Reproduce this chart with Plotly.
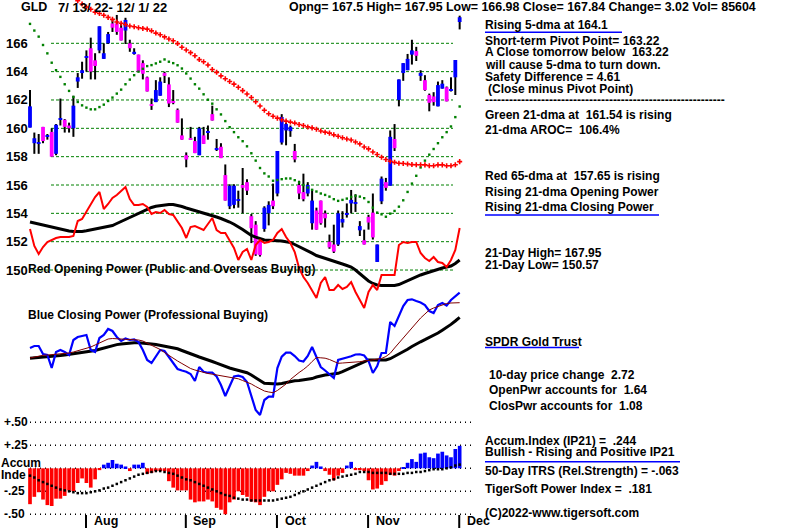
import plotly.graph_objects as go
import pandas as pd

# ---------------- data ----------------
holidays = ["2022-09-05", "2022-11-24"]
dates = [d for d in pd.bdate_range("2022-07-13", "2022-12-01")
         if d.strftime("%Y-%m-%d") not in holidays]

opens = [160.05,158.95,158.95,160.1,159.4,159.75,158.2,160.6,160.6,160.2,
         160.0,163.3,163.9,165.0,165.65,164.8,165.5,164.9,166.0,167.4,
         167.4,167.1,166.9,166.0,165.3,165.2,164.6,163.6,161.65,161.85,
         162.3,163.9,163.1,161.9,161.3,159.5,158.1,159.3,159.1,158.1,
         159.5,159.7,161.0,158.5,158.7,156.7,154.5,154.6,154.9,156.0,
         156.2,153.8,153.2,152.05,152.9,154.0,154.9,155.4,159.0,159.85,
         159.8,158.4,156.0,155.5,155.4,153.3,154.2,154.9,154.0,152.0,
         151.8,151.8,153.35,153.9,154.7,154.7,152.8,152.1,153.75,154.05,
         150.57,154.85,156.2,155.95,159.25,162.0,163.9,164.1,165.2,165.45,
         163.7,163.4,162.35,162.25,161.55,162.8,162.9,162.65,163.6,167.5]
highs = [162.7,159.7,159.6,160.1,159.6,160.0,160.3,162.1,160.65,160.4,
         162.3,163.9,164.7,165.5,166.4,165.3,167.2,166.0,166.8,167.65,
         168.0,167.4,167.8,166.25,165.65,165.2,164.8,163.65,162.1,163.4,
         163.6,164.0,163.6,162.7,161.4,160.7,158.3,160.1,159.4,160.1,
         160.1,160.2,161.6,159.25,158.95,157.45,156.05,156.05,155.6,157.2,
         156.4,153.95,153.45,152.2,154.5,154.85,156.1,158.4,161.0,160.4,
         160.2,158.9,156.3,156.8,156.2,155.7,154.4,154.9,154.2,152.5,
         153.2,154.2,154.15,154.7,155.65,155.35,153.45,152.85,153.9,155.4,
         151.8,156.6,156.5,159.85,160.3,163.45,164.6,165.25,166.25,165.75,
         164.1,163.75,162.45,162.55,163.3,163.4,162.95,163.6,164.8,167.95]
lows = [160.05,158.2,158.2,158.95,159.2,158.0,158.1,160.2,159.7,159.7,
        159.4,162.85,163.5,164.0,163.45,163.45,165.3,164.9,165.95,166.8,
        166.6,166.2,165.95,165.4,165.2,164.0,163.45,162.6,161.3,161.85,
        162.3,163.2,161.5,161.7,160.4,159.2,157.25,159.2,158.25,158.1,
        158.9,159.2,160.55,158.4,157.9,154.9,154.3,154.35,154.4,154.0,
        155.3,151.9,151.0,150.95,152.7,153.15,154.3,155.2,158.85,158.8,
        159.4,157.6,155.0,154.85,155.2,152.85,152.85,153.2,153.0,151.5,
        151.2,151.7,153.0,153.7,154.0,154.1,152.4,151.8,152.85,152.15,
        150.57,154.65,155.6,155.95,158.4,161.55,163.35,164.1,164.5,164.75,
        163.35,162.65,161.2,161.6,161.55,162.8,161.9,162.6,162.35,166.98]
closes = [161.55,159.3,158.95,159.1,159.5,158.0,160.25,160.7,160.1,160.0,
          161.6,163.6,164.1,165.1,164.0,164.4,167.2,165.3,166.65,167.1,
          166.8,166.2,167.65,165.65,165.4,164.0,163.85,162.6,161.6,162.7,
          163.3,163.7,161.75,161.8,160.4,159.2,157.8,159.2,158.25,160.0,
          158.9,159.8,160.55,158.55,157.9,154.9,155.95,155.95,155.0,155.8,
          155.6,152.95,151.1,151.05,154.4,154.6,154.5,158.4,160.8,160.3,
          160.1,157.8,155.4,155.0,156.0,154.9,152.85,153.3,153.65,151.6,
          151.3,154.0,153.6,154.0,154.95,154.7,153.1,151.8,153.35,152.3,
          151.8,156.45,155.8,159.4,158.6,163.45,164.6,164.9,165.5,165.12,
          163.9,162.7,161.8,161.85,163.05,163.15,161.9,162.7,164.82,167.84]

ma21 = [167.37,166.9,166.47,165.88,165.29,164.63,164.1,163.63,163.11,162.64,
        162.21,161.86,161.62,161.46,161.34,161.34,161.5,161.67,161.93,162.17,
        162.45,162.73,163.11,163.44,163.75,164.0,164.2,164.39,164.46,164.58,
        164.7,164.86,164.7,164.6,164.45,164.22,163.87,163.51,163.11,162.8,
        162.4,162.02,161.74,161.34,160.98,160.51,160.08,159.73,159.37,159.09,
        158.73,158.24,157.72,157.2,156.82,156.6,156.3,156.35,156.41,156.46,
        156.46,156.34,156.18,156.0,155.82,155.66,155.54,155.4,155.3,155.18,
        155.0,154.88,154.95,155.04,155.16,155.23,155.18,155.07,154.8,154.4,
        154.05,153.93,153.76,153.98,154.17,154.47,154.92,155.51,156.1,156.65,
        157.24,157.72,158.14,158.54,158.95,159.37,159.73,160.13,160.79,161.54]
ma65 = [None]*11 + [
        169.0,168.77,168.56,168.4,168.2,168.1,167.98,167.83,167.69,
        167.5,167.42,167.33,167.22,167.17,167.1,167.05,167.0,166.88,166.72,
        166.6,166.45,166.3,166.18,165.98,165.72,165.53,165.34,165.12,164.85,
        164.7,164.47,164.15,163.95,163.7,163.5,163.3,163.12,162.9,162.66,
        162.42,162.17,161.88,161.58,161.28,161.03,160.85,160.72,160.6,160.51,
        160.44,160.37,160.27,160.2,160.1,160.03,159.93,159.81,159.73,159.66,
        159.54,159.44,159.33,159.25,159.18,159.03,158.9,158.68,158.55,158.33,
        158.15,157.96,157.8,157.68,157.6,157.53,157.52,157.48,157.44,157.43,
        157.43,157.42,157.36,157.36,157.42,157.42,157.36,157.36,157.43,157.65]

open_power = [7.1,5.4,4.6,5.3,5.8,6.0,6.2,6.3,6.3,6.3,
              6.4,7.9,8.1,8.8,9.5,10.3,10.8,9.1,9.6,10.2,
              10.5,10.9,11.3,10.1,9.5,9.5,9.6,9.3,8.6,8.8,
              8.7,9.0,8.6,8.5,7.9,7.2,6.2,7.3,7.4,7.2,
              7.0,7.6,8.2,7.0,6.7,6.7,6.0,5.2,4.0,4.8,
              5.1,4.0,5.5,6.0,5.7,5.8,6.0,6.7,7.1,6.3,
              5.7,4.8,3.2,2.3,1.7,1.0,0.2,1.7,2.3,1.0,
              1.0,1.5,1.1,1.3,1.8,0.8,0.0,-0.8,0.8,1.5,
              1.0,2.5,2.5,2.5,2.5,5.5,5.8,5.7,5.8,5.8,
              4.7,4.2,3.9,4.3,3.8,3.7,3.3,4.0,5.0,7.2]
open_power_ma = [7.8,7.7,7.55,7.45,7.35,7.25,7.15,7.05,6.97,6.9,
                 6.85,6.83,6.85,6.92,7.0,7.1,7.17,7.23,7.3,7.45,
                 7.65,7.85,8.05,8.28,8.5,8.7,8.9,9.1,9.25,9.37,
                 9.45,9.5,9.54,9.55,9.47,9.35,9.2,9.08,8.97,8.85,
                 8.72,8.58,8.45,8.3,8.15,8.0,7.8,7.58,7.35,7.05,
                 6.75,6.45,6.28,6.13,6.0,5.97,5.96,5.95,5.9,5.82,
                 5.75,5.55,5.35,5.15,4.92,4.68,4.45,4.32,4.18,4.05,
                 3.9,3.75,3.6,3.45,3.3,3.0,2.6,2.2,1.9,1.65,
                 1.5,1.45,1.45,1.45,1.45,1.55,1.75,1.95,2.15,2.35,
                 2.5,2.65,2.8,2.95,3.1,3.2,3.3,3.4,3.65,4.0]

close_power = [7.2,7.4,7.4,6.6,6.5,5.2,6.8,7.0,6.8,6.5,
               8.0,8.3,8.4,8.5,7.0,6.8,8.2,8.5,9.1,8.9,
               8.3,7.9,8.15,8.0,8.05,7.8,7.0,6.0,5.7,6.4,
               7.0,6.9,6.3,5.6,5.1,4.95,4.83,4.6,3.9,5.3,
               4.83,4.73,4.73,4.35,3.5,2.4,3.4,4.35,4.43,4.3,
               3.8,2.3,1.0,0.5,2.0,2.33,2.33,5.2,6.33,6.73,
               6.73,6.4,5.95,5.85,6.4,7.3,6.2,5.3,4.95,4.6,
               4.2,6.0,6.15,6.25,6.37,6.55,6.57,6.45,5.9,4.7,
               5.4,6.7,6.7,9.8,9.4,10.4,11.4,12.0,12.07,11.9,
               11.75,11.5,10.9,10.7,11.5,11.7,11.45,12.0,12.4,12.73]
close_power_ma21 = [6.2,6.3,6.35,6.47,6.5,6.53,6.58,6.62,6.65,6.7,
                    6.8,6.92,7.05,7.18,7.3,7.5,7.7,7.9,8.1,8.15,
                    8.1,8.08,8.07,8.05,8.03,8.0,7.9,7.7,7.5,7.3,
                    7.05,6.75,6.45,6.17,5.9,5.65,5.4,5.15,5.0,4.87,
                    4.75,4.65,4.58,4.5,4.43,4.37,4.3,4.2,4.12,3.95,
                    3.78,3.6,3.35,3.1,2.9,2.8,2.73,2.95,3.25,3.6,
                    4.05,4.45,4.75,5.05,5.4,5.85,6.25,6.22,6.18,6.05,
                    5.85,5.67,5.7,5.72,5.74,5.78,5.83,5.9,5.97,6.02,
                    6.08,6.15,6.35,6.67,7.2,7.7,8.2,8.7,9.2,9.75,
                    10.2,10.6,11.0,11.2,11.35,11.5,11.65,11.7,11.72,11.73]
close_power_ma65 = [6.17,6.2,6.23,6.26,6.29,6.33,6.38,6.44,6.5,6.56,
                    6.6,6.67,6.74,6.81,6.88,6.95,7.07,7.2,7.34,7.48,
                    7.54,7.6,7.65,7.7,7.73,7.72,7.7,7.65,7.61,7.55,
                    7.47,7.4,7.33,7.27,7.12,6.95,6.77,6.6,6.45,6.3,
                    6.15,6.02,5.85,5.68,5.5,5.32,5.2,5.08,4.97,4.85,
                    4.73,4.5,4.22,3.95,3.68,3.66,3.63,3.6,3.65,3.75,
                    3.87,3.92,3.96,4.0,4.05,4.14,4.3,4.42,4.5,4.55,
                    4.61,4.67,4.84,5.04,5.24,5.45,5.65,5.86,6.0,6.0,
                    6.0,6.0,6.0,6.13,6.35,6.57,6.8,7.08,7.35,7.62,
                    7.82,8.03,8.24,8.45,8.7,8.98,9.25,9.56,9.9,10.27]

accum = [-0.39,-0.31,-0.26,-0.34,-0.40,-0.41,-0.33,-0.33,-0.30,-0.24,
         -0.25,-0.16,-0.11,-0.16,-0.21,-0.12,-0.02,0.04,0.06,0.09,
         0.05,0.04,0.02,-0.03,0.04,0.04,0.06,-0.06,-0.05,-0.03,
         -0.03,-0.03,-0.14,-0.21,-0.24,-0.24,-0.24,-0.34,-0.37,-0.36,
         -0.36,-0.34,-0.36,-0.43,-0.45,-0.50,-0.37,-0.34,-0.25,-0.29,
         -0.31,-0.36,-0.37,-0.40,-0.31,-0.25,-0.25,-0.18,-0.12,-0.05,
         -0.06,-0.08,-0.08,-0.08,-0.03,0.03,0.07,0.02,-0.03,-0.07,
         -0.13,-0.08,-0.05,0.03,0.07,-0.02,-0.02,-0.03,-0.13,-0.23,
         -0.22,-0.18,-0.14,-0.07,-0.08,-0.03,0.01,0.06,0.10,0.07,
         0.16,0.17,0.12,0.11,0.16,0.18,0.14,0.12,0.21,0.244]
accum_ma = [-0.08,-0.10,-0.13,-0.15,-0.17,-0.19,-0.21,-0.23,-0.24,-0.25,
            -0.26,-0.27,-0.27,-0.27,-0.26,-0.25,-0.24,-0.22,-0.21,-0.19,
            -0.17,-0.15,-0.13,-0.11,-0.09,-0.07,-0.06,-0.05,-0.04,-0.03,
            -0.03,-0.04,-0.05,-0.06,-0.08,-0.10,-0.12,-0.13,-0.15,-0.17,
            -0.19,-0.21,-0.23,-0.25,-0.27,-0.29,-0.30,-0.32,-0.33,-0.34,
            -0.34,-0.35,-0.35,-0.35,-0.35,-0.35,-0.35,-0.34,-0.33,-0.32,
            -0.31,-0.29,-0.27,-0.25,-0.23,-0.21,-0.19,-0.17,-0.15,-0.13,
            -0.12,-0.10,-0.09,-0.08,-0.07,-0.06,-0.04,-0.04,-0.04,-0.05,
            -0.05,-0.05,-0.05,-0.06,-0.06,-0.06,-0.06,-0.05,-0.05,-0.04,
            -0.04,-0.03,-0.02,-0.01,-0.01,-0.01,0.00,0.01,0.03,0.04]

price_ticks = [150, 152, 154, 156, 158, 160, 162, 164, 166]
accum_ticks = [0.50, 0.25, 0.0, -0.25, -0.50]
accum_tick_labels = ["+.50", "+.25", "", "-.25", "-.50"]

# ---------------- layout helpers ----------------
W, H = 800, 528
FONT = "Liberation Sans, Arial, sans-serif"
PX0, DX = 30.0, 4.34          # pixel x of first session and session spacing


def xi(px):
    return (px - PX0) / DX


idx = list(range(len(dates)))
BLUE, MAG, RED, GREEN = "#0000FF", "#FF00FF", "#FF0000", "#008000"

fig = go.Figure()

# candles: wicks then bodies
fig.add_trace(go.Bar(x=idx, y=[h - l for h, l in zip(highs, lows)], base=lows,
                     width=0.46, marker=dict(color="black", line=dict(width=0)),
                     yaxis="y", hoverinfo="skip"))
body_base = [min(o, c) for o, c in zip(opens, closes)]
body_h = [max(abs(c - o), 0.08) for o, c in zip(opens, closes)]
body_col = [BLUE if c >= o else MAG for o, c in zip(opens, closes)]
fig.add_trace(go.Bar(x=idx, y=body_h, base=body_base, width=0.88,
                     marker=dict(color=body_col, line=dict(width=0)),
                     yaxis="y", hoverinfo="skip"))
# moving averages
fig.add_trace(go.Scatter(x=idx, y=ma21, mode="markers", yaxis="y",
                         marker=dict(symbol="square", size=2.4, color=GREEN, line=dict(width=0))))
fig.add_trace(go.Scatter(x=idx, y=ma65, mode="markers", yaxis="y",
                         marker=dict(symbol="cross-thin", size=3.6, color=RED,
                                     line=dict(width=1.6, color=RED))))
# opening power
fig.add_trace(go.Scatter(x=idx, y=open_power_ma, mode="lines", yaxis="y2",
                         line=dict(color="black", width=3)))
fig.add_trace(go.Scatter(x=idx, y=open_power, mode="lines", yaxis="y2",
                         line=dict(color=RED, width=2)))
# closing power
fig.add_trace(go.Scatter(x=idx, y=close_power_ma65, mode="lines", yaxis="y3",
                         line=dict(color="black", width=3)))
fig.add_trace(go.Scatter(x=idx, y=close_power, mode="lines", yaxis="y3",
                         line=dict(color=BLUE, width=2.2)))
fig.add_trace(go.Scatter(x=idx, y=close_power_ma21, mode="lines", yaxis="y3",
                         line=dict(color="#800000", width=1)))
# accumulation index
fig.add_trace(go.Bar(x=idx, y=accum, base=0, width=0.85, yaxis="y4",
                     marker=dict(color=[BLUE if v > 0 else RED for v in accum], line=dict(width=0))))
fig.add_trace(go.Scatter(x=idx, y=accum_ma, mode="markers", yaxis="y4",
                         marker=dict(symbol="square", size=2.5, color="black", line=dict(width=0))))

shapes, ann = [], []
# price grid
for t in price_ticks:
    shapes.append(dict(type="line", xref="x", yref="y", x0=xi(30 if t == 150 else 51), x1=xi(453),
                       y0=t, y1=t, layer="below", line=dict(color=GREEN, width=1, dash="3px,2px")))
    ann.append(dict(text="<b>%d</b>" % t, x=4 / W, xref="paper", y=t, yref="y", xanchor="left",
                    yanchor="middle", showarrow=False, font=dict(family=FONT, size=13, color="black")))
# accum grid
for t, lab in zip(accum_ticks, accum_tick_labels):
    shapes.append(dict(type="line", xref="x", yref="y4", x0=xi(30), x1=xi(471), y0=t, y1=t,
                       layer="below", line=dict(color="black", width=1.5, dash="1px,4px")))
    if lab:
        ann.append(dict(text="<b>%s</b>" % lab, x=2 / W, xref="paper", y=t, yref="y4", xanchor="left",
                        yanchor="middle", showarrow=False, font=dict(family=FONT, size=12, color="black")))

# month separators
for k in range(1, len(dates)):
    if dates[k].month != dates[k - 1].month:
        shapes.append(dict(type="line", xref="x", yref="paper", x0=k - 0.1, x1=k - 0.1,
                           y0=0, y1=(H - 515) / H, line=dict(color="black", width=2)))
        ann.append(dict(text="<b>%s</b>" % dates[k].strftime("%b"), x=k + 1.2, xref="x",
                        y=1 - 520.5 / H, yref="paper", xanchor="left", yanchor="middle",
                        showarrow=False, font=dict(family=FONT, size=12.5, color="black")))


def T(text, px, py, size=12, color="black"):
    ann.append(dict(text="<b>" + text.replace("  ", " \u00a0") + "</b>", x=px / W, y=1 - py / H,
                    xref="paper", yref="paper", xanchor="left", yanchor="middle", showarrow=False,
                    font=dict(family=FONT, size=size, color=color), borderpad=0, borderwidth=0))


T("GLD", 21, 7, 12.5)
T("7/ 13/ 22- 12/ 1/ 22", 58, 7, 13)
T("Opng= 167.5 High= 167.95 Low= 166.98 Close= 167.84 Change= 3.02 Vol= 85604", 289, 7, 12.4)
T("Accum", 1, 462.5)
T("Inde", 1, 475)
T("Red Opening Power (Public and Overseas Buying)", 28, 268.5)
T("Blue Closing Power (Professional Buying)", 28, 314.5)

right = [("Rising 5-dma at 164.1", 485, 25), ("Short-term Pivot Point= 163.22", 485, 41),
         ("A Close tomorrow below  163.22", 485, 52.5), ("will cause 5-dma to turn down.", 485, 64.5),
         ("Safety Difference = 4.61", 485, 77.5), ("(Close minus Pivot Point)", 488, 89.5),
         ("-" * 60, 485, 100.5),
         ("Green 21-dma at  161.54 is rising", 485, 115), ("21-dma AROC=  106.4%", 485, 129.5),
         ("Red 65-dma at  157.65 is rising", 485, 175.5), ("Rising 21-dma Opening Power", 485, 191.5),
         ("Rising 21-dma Closing Power", 485, 206.5),
         ("21-Day High= 167.95", 485, 253.3), ("21-Day Low= 150.57", 485, 265),
         ("SPDR Gold Trust", 485, 341.5),
         ("10-day price change  2.72", 489, 375), ("OpenPwr accounts for  1.64", 489, 390),
         ("ClosPwr accounts for  1.08", 489, 405.5),
         ("Accum.Index (IP21) =  .244", 485, 440.5), ("Bullish - Rising and Positive IP21", 485, 451.5),
         ("50-Day ITRS (Rel.Strength) = -.063", 485, 470.5), ("TigerSoft Power Index =  .181", 485, 489),
         ("(C)2022-www.tigersoft.com", 485, 512.5)]
for s, px, py in right:
    T(s, px, py)

for x0, x1, py in [(485, 622, 32.3), (485, 659, 215), (485, 579, 347.5), (485, 680, 461.7)]:
    shapes.append(dict(type="line", xref="paper", yref="paper", x0=x0 / W, x1=x1 / W,
                       y0=1 - py / H, y1=1 - py / H, line=dict(color=BLUE, width=1.5)))

ax = dict(visible=False, fixedrange=True, showgrid=False, zeroline=False)
fig.update_layout(
    width=W, height=H, margin=dict(l=0, r=0, t=0, b=0), autosize=False,
    paper_bgcolor="white", plot_bgcolor="white", showlegend=False, barmode="overlay",
    xaxis=dict(ax, range=[xi(0), xi(W)]),
    yaxis=dict(ax, range=[166 - (H - 43.3) / 14.17, 166 + 43.3 / 14.17]),
    yaxis2=dict(ax, overlaying="y", range=[-22.8, 30]),
    yaxis3=dict(ax, overlaying="y", range=[-10.8, 42]),
    yaxis4=dict(ax, overlaying="y", range=[-(H - 468.3) / 92, 468.3 / 92]),
    shapes=shapes, annotations=ann, hovermode=False,
)
fig.write_html("out.html")
